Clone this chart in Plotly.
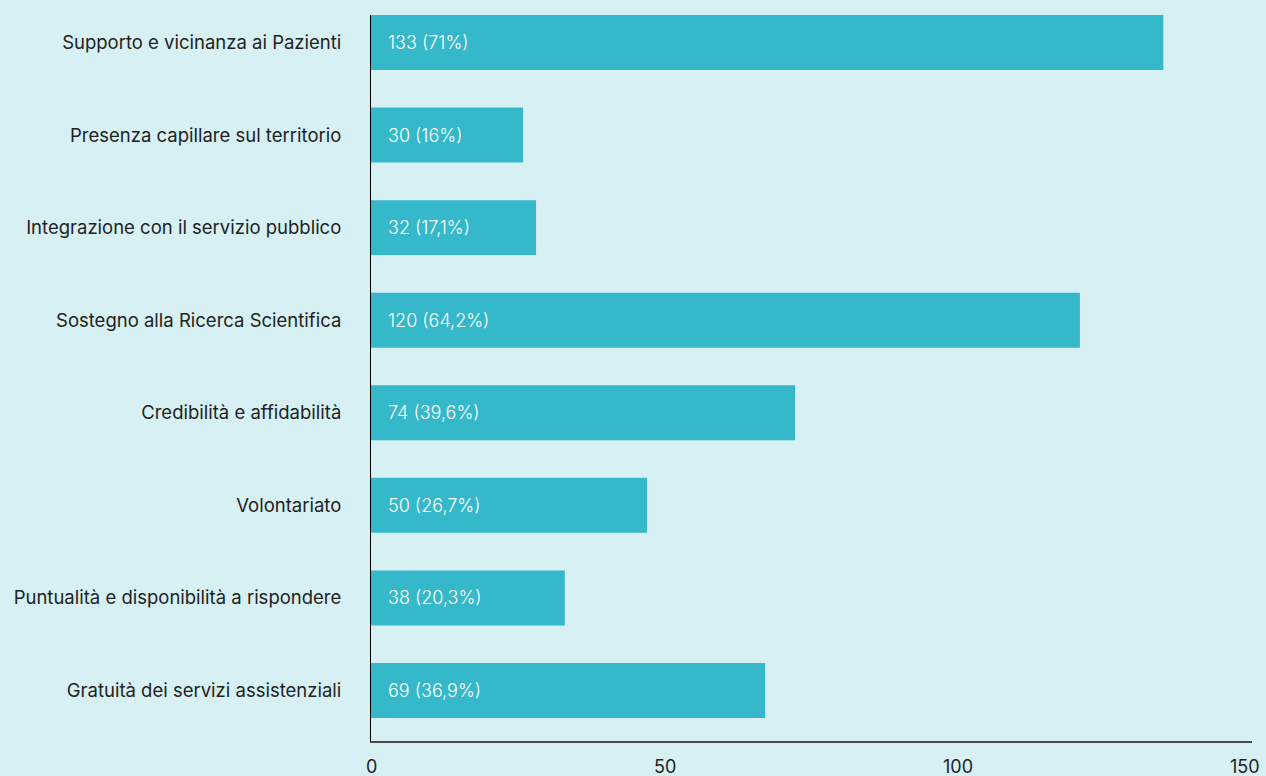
import plotly.graph_objects as go

categories = [
    "Supporto e vicinanza ai Pazienti",
    "Presenza capillare sul territorio",
    "Integrazione con il servizio pubblico",
    "Sostegno alla Ricerca Scientifica",
    "Credibilità e affidabilità",
    "Volontariato",
    "Puntualità e disponibilità a rispondere",
    "Gratuità dei servizi assistenziali",
]
# bar lengths as drawn in the picture
bar_lengths = [134.9, 25.9, 28.1, 120.7, 72.2, 47.0, 33.0, 67.1]
# labels printed on the bars
counts = [133, 30, 32, 120, 74, 50, 38, 69]
percents = ["71%", "16%", "17,1%", "64,2%", "39,6%", "26,7%", "20,3%", "36,9%"]
x_ticks = [0, 50, 100, 150]

BG = "#d6f0f3"
BAR = "#35b8ca"
FONT = "Inter, Lato, sans-serif"

ypos = list(range(len(categories)))

fig = go.Figure()
fig.add_trace(go.Bar(
    x=bar_lengths,
    y=ypos,
    orientation="h",
    width=0.594,
    marker=dict(color=BAR, line=dict(width=0)),
    hoverinfo="skip",
))

for i, (c, p) in enumerate(zip(counts, percents)):
    fig.add_annotation(
        x=0, y=i, xref="x", yref="y",
        text=f"{c} ({p})",
        showarrow=False,
        xanchor="left", yanchor="middle",
        xshift=15,
        font=dict(family=FONT, size=18, color="white", weight=300),
    )

# x tick labels
for k, v in enumerate(x_ticks):
    last = k == len(x_ticks) - 1
    fig.add_annotation(
        x=v, y=0, xref="x", yref="paper",
        text=str(v),
        showarrow=False,
        xanchor="right" if last else "center", yanchor="middle",
        xshift=10 if last else 0,
        yshift=-25,
        font=dict(family=FONT, size=18, color="#222222"),
    )

fig.update_layout(
    width=1266, height=776,
    paper_bgcolor=BG, plot_bgcolor=BG,
    margin=dict(l=371, r=14, t=15, b=35),
    showlegend=False,
    font=dict(family=FONT, size=18, color="#222222"),
)
fig.update_xaxes(
    range=[0, 150],
    showticklabels=False,
    showgrid=False, zeroline=False,
    showline=True, linecolor="#4a4a4a", linewidth=2,
    ticks="",
    fixedrange=True,
)
fig.update_yaxes(
    range=[7.546, -0.297],
    tickvals=ypos,
    ticktext=categories,
    showgrid=False, zeroline=False,
    showline=True, linecolor="#000000", linewidth=1,
    ticks="", ticklabelstandoff=25,
    tickfont=dict(family=FONT, size=18.5, color="#222222"),
    fixedrange=True,
)

fig.write_html(
    "out.html",
    config={"displayModeBar": False},
    post_script="document.body.style.margin='0';document.body.style.overflow='hidden';",
)
